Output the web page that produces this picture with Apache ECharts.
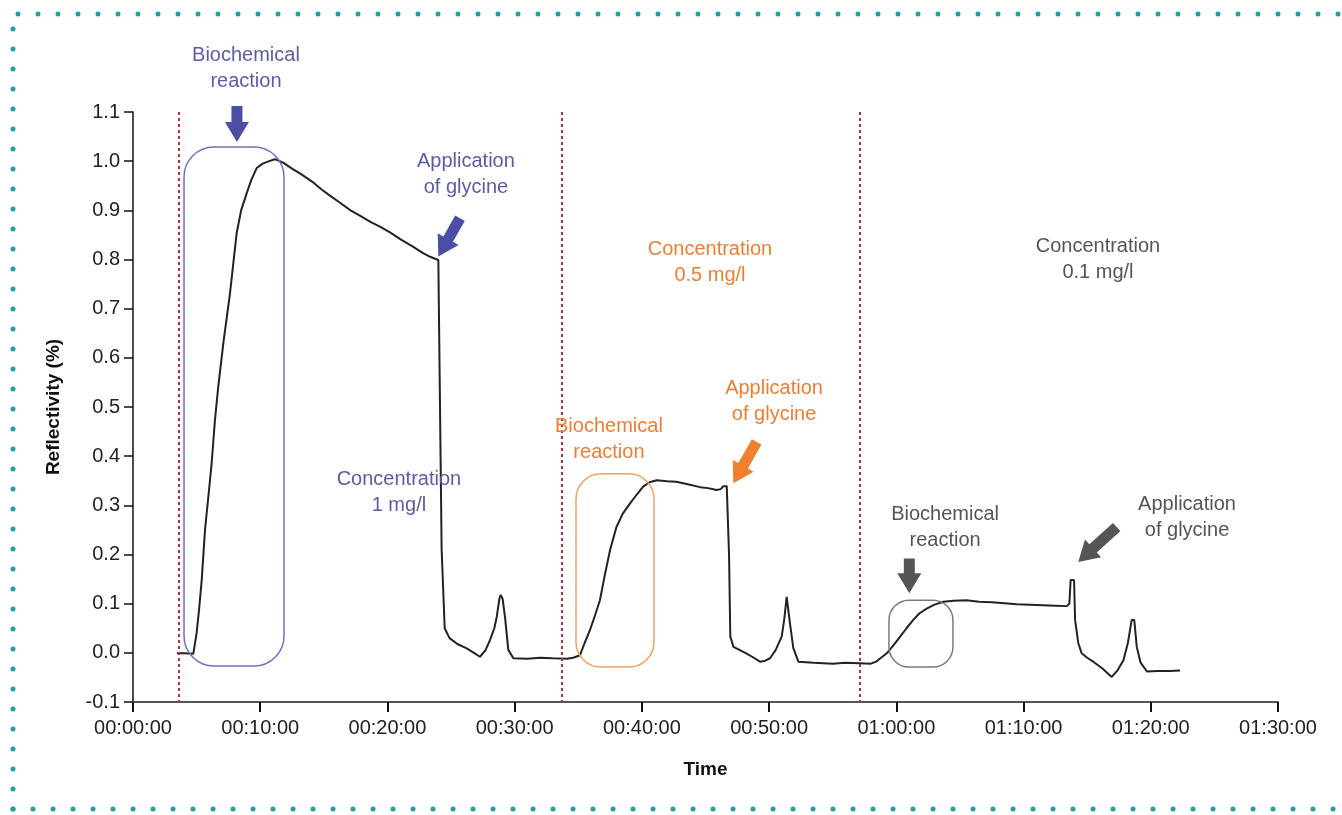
<!DOCTYPE html>
<html>
<head>
<meta charset="utf-8">
<script src="https://cdn.jsdelivr.net/npm/echarts@6/dist/echarts.min.js"></script>
<style>
html,body{margin:0;padding:0;background:#fff;}
#main{width:1342px;height:815px;}
</style>
</head>
<body>
<div id="main"></div>
<script>
// ---- Data (time in minutes, reflectivity in %) ----
var timeMin = [
  3.45, 4.0, 4.74, 5.0, 5.2, 5.4, 5.66, 5.92, 6.18, 6.44, 6.7, 7.1, 7.62, 8.15, 8.5, 8.94, 9.3, 9.72, 10.2, 10.7,
  11.16, 11.8, 12.5, 13.3, 14.1, 14.8, 15.48, 16.3, 17.1, 17.9, 18.7, 19.41, 20.2, 21.1, 22.0, 22.8, 23.4, 24.0, 24.15, 24.26,
  24.5, 24.88, 25.5, 26.23, 26.8, 27.27, 27.7, 28.06, 28.4, 28.59, 28.8, 28.9, 29.05, 29.24, 29.5, 29.9, 31.0, 32.0, 33.0, 34.1,
  34.6, 35.13, 35.5, 35.9, 36.3, 36.7, 37.1, 37.5, 38.0, 38.5, 39.07, 39.6, 40.1, 40.6, 41.16, 42.0, 42.7, 43.6, 44.57, 45.2,
  45.88, 46.2, 46.4, 46.67, 46.77, 46.85, 46.95, 47.2, 48.2, 48.8, 49.28, 49.7, 50.07, 50.5, 50.99, 51.2, 51.38, 51.5, 51.64, 51.9,
  52.3, 53.5, 55.0, 56.0, 57.1, 58.0, 58.4, 58.8, 59.25, 59.8, 60.3, 60.8, 61.33, 61.8, 62.38, 63.0, 63.7, 64.5, 65.5, 66.5,
  67.5, 68.5, 69.46, 70.5, 71.5, 72.5, 73.4, 73.6, 73.7, 73.97, 74.05, 74.3, 74.57, 75.0, 75.48, 76.2, 76.93, 77.4, 77.85, 78.2,
  78.5, 78.7, 78.9, 79.2, 79.7, 80.5, 81.5, 82.3
];
var reflectivity = [
  -0.001, -0.001, -0.002, 0.04, 0.09, 0.148, 0.25, 0.317, 0.385, 0.473, 0.541, 0.63, 0.73, 0.854, 0.90, 0.935, 0.962, 0.986, 0.995, 1.0,
  1.004, 0.997, 0.985, 0.972, 0.958, 0.943, 0.930, 0.915, 0.900, 0.888, 0.876, 0.867, 0.855, 0.840, 0.826, 0.813, 0.805, 0.799, 0.795, 0.21,
  0.05, 0.030, 0.018, 0.009, 0.0, -0.008, 0.005, 0.026, 0.05, 0.073, 0.11, 0.118, 0.11, 0.073, 0.006, -0.011, -0.012, -0.010, -0.011, -0.012,
  -0.010, -0.005, 0.02, 0.045, 0.075, 0.107, 0.16, 0.209, 0.256, 0.283, 0.304, 0.322, 0.338, 0.347, 0.351, 0.349, 0.348, 0.343, 0.337, 0.335,
  0.331, 0.333, 0.339, 0.339, 0.339, 0.20, 0.033, 0.012, -0.001, -0.010, -0.018, -0.016, -0.011, 0.005, 0.033, 0.07, 0.114, 0.11, 0.06, 0.01,
  -0.018, -0.020, -0.022, -0.020, -0.021, -0.022, -0.018, -0.010, -0.001, 0.016, 0.033, 0.050, 0.067, 0.080, 0.090, 0.098, 0.104, 0.106, 0.107, 0.104,
  0.103, 0.101, 0.099, 0.098, 0.097, 0.096, 0.095, 0.10, 0.148, 0.148, 0.067, 0.02, -0.001, -0.010, -0.018, -0.032, -0.049, -0.035, -0.015, 0.02,
  0.067, 0.067, 0.012, -0.02, -0.038, -0.037, -0.037, -0.036
];
// experiment boundaries (minutes)
var boundaries = [3.62, 33.72, 57.14];

// annotation content (data coordinates)
var notes = [
  {text: 'Biochemical\nreaction', at: [8.88, 1.189], color: '#5b5ca8'},
  {text: 'Application\nof glycine', at: [26.17, 0.972], color: '#5b5ca8'},
  {text: 'Concentration\n1 mg/l', at: [20.9, 0.327], color: '#5b5ca8'},
  {text: 'Concentration\n0.5 mg/l', at: [45.35, 0.793], color: '#ef7d33'},
  {text: 'Biochemical\nreaction', at: [37.41, 0.433], color: '#ef7d33'},
  {text: 'Application\nof glycine', at: [50.39, 0.512], color: '#ef7d33'},
  {text: 'Concentration\n0.1 mg/l', at: [75.85, 0.801], color: '#555555'},
  {text: 'Biochemical\nreaction', at: [63.83, 0.254], color: '#555555'},
  {text: 'Application\nof glycine', at: [82.85, 0.276], color: '#555555'}
];
var boxes = [
  {from: [4.01, 1.029], to: [11.87, -0.027], r: 30, color: '#6d72c4'},
  {from: [34.82, 0.364], to: [40.95, -0.029], r: 25, color: '#f4a062'},
  {from: [59.42, 0.107], to: [64.45, -0.029], r: 20, color: '#7a7a7a'}
];
var arrows = [
  {tail: [8.17, 1.112], tip: [8.17, 1.039], color: '#4a4fa3'},
  {tail: [25.7, 0.884], tip: [24.0, 0.806], color: '#4a4fa3'},
  {tail: [49.02, 0.429], tip: [47.19, 0.345], color: '#f07f2e'},
  {tail: [61.02, 0.192], tip: [61.02, 0.121], color: '#555555'},
  {tail: [77.32, 0.256], tip: [74.3, 0.185], color: '#555555'}
];

var xTicks = ['00:00:00','00:10:00','00:20:00','00:30:00','00:40:00','00:50:00','01:00:00','01:10:00','01:20:00','01:30:00'];

var FONT = "'Liberation Sans', Arial, Helvetica, sans-serif";

var seriesData = timeMin.map(function (t, i) { return [t, reflectivity[i]]; });

var chart = echarts.init(document.getElementById('main'), null, {renderer: 'canvas'});

chart.setOption({
  backgroundColor: '#ffffff',
  animation: false,
  grid: {left: 133, right: 64, top: 112, bottom: 113, containLabel: false},
  xAxis: {
    type: 'value', min: 0, max: 90, interval: 10,
    name: 'Time', nameLocation: 'middle', nameGap: 58,
    nameTextStyle: {fontFamily: FONT, fontSize: 19, fontWeight: 'bold', color: '#111'},
    axisLine: {show: true, onZero: false, lineStyle: {color: '#555', width: 2}},
    axisTick: {show: true, length: 10, lineStyle: {color: '#111', width: 2}},
    axisLabel: {
      fontFamily: FONT, fontSize: 20, color: '#222', margin: 16,
      formatter: function (v) { return xTicks[Math.round(v / 10)]; }
    },
    splitLine: {show: false}
  },
  yAxis: {
    type: 'value', min: -0.1, max: 1.1, interval: 0.1,
    name: 'Reflectivity (%)', nameLocation: 'middle', nameGap: 70, nameRotate: 90,
    nameTextStyle: {fontFamily: FONT, fontSize: 19, fontWeight: 'bold', color: '#111'},
    axisLine: {show: true, onZero: false, lineStyle: {color: '#111', width: 1.5}},
    axisTick: {show: true, length: 9, lineStyle: {color: '#111', width: 1.5}},
    axisLabel: {
      fontFamily: FONT, fontSize: 20, color: '#222', margin: 13,
      formatter: function (v) { return v.toFixed(1); }
    },
    splitLine: {show: false}
  },
  series: [{
    type: 'line',
    data: seriesData,
    showSymbol: false,
    symbol: 'none',
    lineStyle: {color: '#222', width: 2},
    z: 3,
    markLine: {
      silent: true,
      symbol: ['none', 'none'],
      label: {show: false},
      lineStyle: {color: '#a8343f', type: [3, 3], width: 2},
      data: boundaries.map(function (b) { return [{coord: [b, 1.1]}, {coord: [b, -0.1]}]; })
    }
  }]
});

function px(p) { return chart.convertToPixel({xAxisIndex: 0, yAxisIndex: 0}, p); }

var graphics = [];
// decorative dotted frame
graphics.push({
  type: 'polyline', silent: true, z: 0,
  shape: {points: [[13, 809], [13, 14], [1342, 14]]},
  style: {stroke: '#24a09b', lineWidth: 5, lineDash: [0, 20], lineCap: 'round', fill: null}
});
graphics.push({
  type: 'polyline', silent: true, z: 0,
  shape: {points: [[13, 809], [1342, 809]]},
  style: {stroke: '#24a09b', lineWidth: 5, lineDash: [0, 20], lineCap: 'round', fill: null}
});

boxes.forEach(function (b) {
  var a = px(b.from), c = px(b.to);
  graphics.push({
    type: 'rect', silent: true, z: 5,
    shape: {x: Math.min(a[0], c[0]), y: Math.min(a[1], c[1]), width: Math.abs(c[0] - a[0]), height: Math.abs(c[1] - a[1]), r: b.r},
    style: {fill: null, stroke: b.color, lineWidth: 1.5}
  });
});

arrows.forEach(function (ar) {
  var P = px(ar.tip), Q = px(ar.tail);
  var dx = P[0] - Q[0], dy = P[1] - Q[1];
  var L = Math.sqrt(dx * dx + dy * dy);
  var ux = dx / L, uy = dy / L, nx = -uy, ny = ux;
  var h = 20, hw = 12, sw = 5.5;
  var Bx = P[0] - ux * h, By = P[1] - uy * h;
  graphics.push({
    type: 'polygon', silent: true, z: 6,
    shape: {points: [
      [Q[0] + nx * sw, Q[1] + ny * sw],
      [Bx + nx * sw, By + ny * sw],
      [Bx + nx * hw, By + ny * hw],
      [P[0], P[1]],
      [Bx - nx * hw, By - ny * hw],
      [Bx - nx * sw, By - ny * sw],
      [Q[0] - nx * sw, Q[1] - ny * sw]
    ]},
    style: {fill: ar.color, stroke: null}
  });
});

notes.forEach(function (n) {
  var p = px(n.at);
  graphics.push({
    type: 'text', silent: true, z: 7,
    x: p[0], y: p[1],
    style: {text: n.text, fill: n.color, font: '20px ' + FONT, align: 'center', verticalAlign: 'middle', lineHeight: 26}
  });
});

chart.setOption({graphic: graphics});
</script>
</body>
</html>
